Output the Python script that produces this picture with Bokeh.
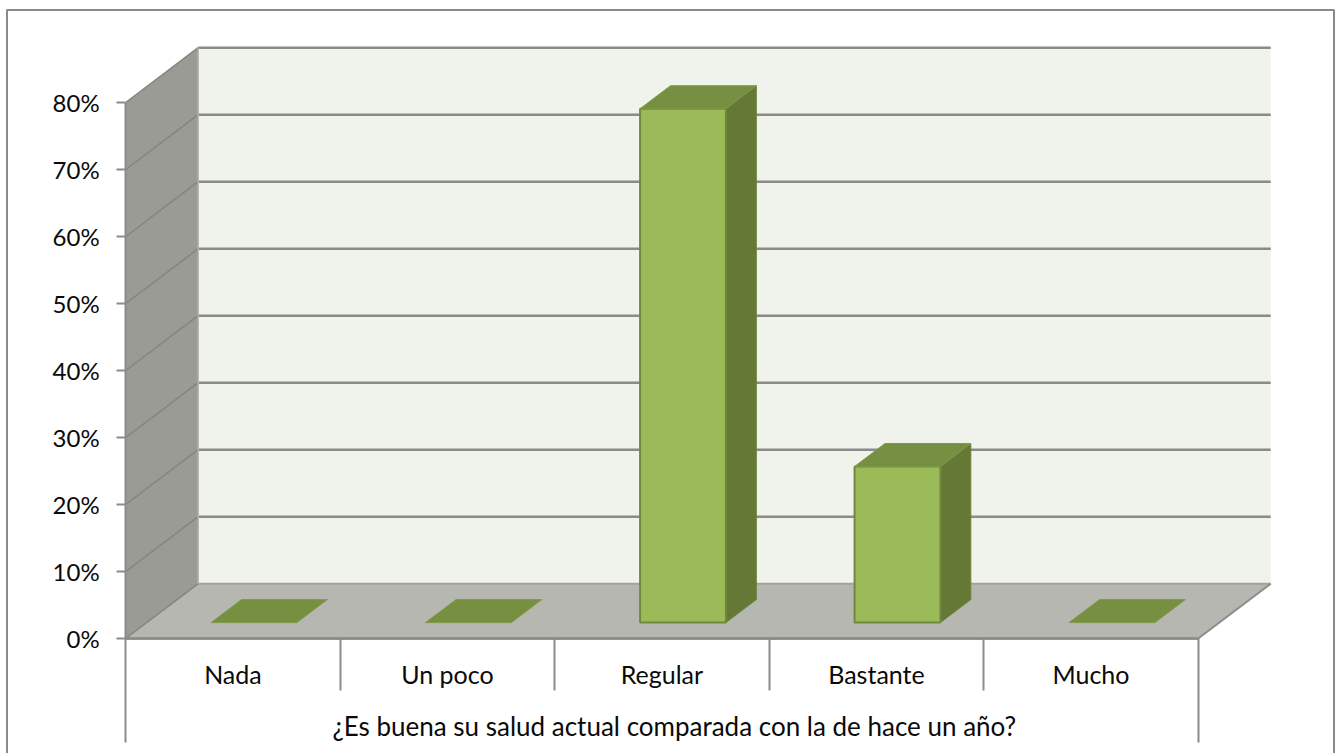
from bokeh.embed import file_html
from bokeh.models import BoxAnnotation, FixedTicker, LinearAxis, Range1d
from bokeh.plotting import figure
from bokeh.resources import INLINE

categories = ["Nada", "Un poco", "Regular", "Bastante", "Mucho"]
percentages = [0.0, 0.0, 76.7, 23.3, 0.0]
y_ticks = [0, 10, 20, 30, 40, 50, 60, 70, 80]
y_tick_labels = ["0%", "10%", "20%", "30%", "40%", "50%", "60%", "70%", "80%"]
group_title = "¿Es buena su salud actual comparada con la de hace un año?"

FONT = "Lato"
WIDTH, HEIGHT = 1339, 753

# Pixel scale of the oblique projection
PX_PER_CAT = 214.5
PX_PER_PCT = 6.7
ORIGIN_X, ORIGIN_Y = 125.2, 638.0

# Depth of the floor and of the columns, in data units
DEPTH_X = 72.5 / PX_PER_CAT
DEPTH_Y = 54.8 / PX_PER_PCT
BAR_WIDTH = 0.40
BAR_DEPTH = 0.42
BAR_SHIFT = 0.29

TOP_Y = max(y_ticks)
N = len(categories)

p = figure(
    width=WIDTH, height=HEIGHT, output_backend="svg", toolbar_location=None,
    x_range=Range1d(-ORIGIN_X / PX_PER_CAT, (WIDTH - ORIGIN_X) / PX_PER_CAT),
    y_range=Range1d(-(HEIGHT - ORIGIN_Y) / PX_PER_PCT, ORIGIN_Y / PX_PER_PCT),
    x_axis_type=None, y_axis_type=None,
    min_border=0, min_border_left=0, min_border_right=0, min_border_top=0, min_border_bottom=0,
    outline_line_color=None, background_fill_color="white",
)
p.xgrid.visible = False
p.ygrid.visible = False

# Chart border: open along the bottom of the page
p.add_layout(BoxAnnotation(
    left=6.5, right=1333.5, top=HEIGHT - 9.5, bottom=-40,
    left_units="screen", right_units="screen", top_units="screen", bottom_units="screen",
    fill_color=None, fill_alpha=0, line_color="#8a8a8a", line_alpha=1, line_width=2,
    level="underlay",
))

# Back wall, side wall and floor
p.patch([DEPTH_X, N + DEPTH_X, N + DEPTH_X, DEPTH_X],
        [DEPTH_Y, DEPTH_Y, TOP_Y + DEPTH_Y, TOP_Y + DEPTH_Y],
        fill_color="#f0f3ec", line_color=None)
p.patch([0, DEPTH_X, DEPTH_X, 0], [0, DEPTH_Y, TOP_Y + DEPTH_Y, TOP_Y],
        fill_color="#999b94", line_color=None)
p.patch([0, N, N + DEPTH_X, DEPTH_X], [0, 0, DEPTH_Y, DEPTH_Y],
        fill_color="#b5b7b0", line_color=None)

# Gridlines run up the side wall and across the back wall
for t in y_ticks:
    p.line([0, DEPTH_X], [t, t + DEPTH_Y], line_color="#84857f", line_width=1.5)
    if t == 0:
        p.line([DEPTH_X, N + DEPTH_X], [DEPTH_Y, DEPTH_Y], line_color="#a0a29b", line_width=2)
    else:
        p.line([DEPTH_X, N + DEPTH_X], [t + DEPTH_Y, t + DEPTH_Y], line_color="#8a8a8a", line_width=2.4)
p.line([DEPTH_X, DEPTH_X], [DEPTH_Y, TOP_Y + DEPTH_Y], line_color="#b3b5ae", line_width=1.5)
p.line([N, N + DEPTH_X], [0, DEPTH_Y], line_color="#8c8c8c", line_width=2)

# Columns: a flat lid is all that remains of a zero value
for i, v in enumerate(percentages):
    x0 = i + 0.5 - BAR_WIDTH / 2 + BAR_SHIFT * DEPTH_X
    x1 = x0 + BAR_WIDTH
    y0 = BAR_SHIFT * DEPTH_Y
    y1 = y0 + v
    dx = BAR_DEPTH * DEPTH_X
    dy = BAR_DEPTH * DEPTH_Y
    if v > 0:
        p.patch([x1, x1 + dx, x1 + dx, x1], [y0, y0 + dy, y1 + dy, y1],
                fill_color="#657835", line_color="#6d8339", line_width=1)
        p.patch([x0, x1, x1, x0], [y0, y0, y1, y1],
                fill_color="#9bbb59", line_color="#71893f", line_width=2)
    p.patch([x0, x1, x1 + dx, x0 + dx], [y1, y1, y1 + dy, y1 + dy],
            fill_color="#768f40", line_color="#7f9a49", line_width=1)


def grey_axis(axis, label_size="24px"):
    axis.axis_line_color = "#8c8c8c"
    axis.axis_line_width = 2
    axis.major_tick_line_color = "#8c8c8c"
    axis.major_tick_line_width = 2
    axis.major_tick_in = 0
    axis.minor_tick_line_color = None
    axis.major_label_text_font = FONT
    axis.major_label_text_color = "#0a0a0a"
    axis.major_label_text_font_size = label_size
    return axis


# Value axis along the front edge of the side wall
y_axis = grey_axis(LinearAxis(fixed_location=0, ticker=FixedTicker(ticks=y_ticks)))
y_axis.bounds = (0, TOP_Y)
y_axis.major_tick_out = 9
y_axis.major_label_standoff = 17
y_axis.major_label_overrides = dict(zip(y_ticks, y_tick_labels))
p.add_layout(y_axis, "left")

# Two-level category axis: short separators, then the tall outer ones
inner = list(range(1, N))
sep_axis = grey_axis(LinearAxis(fixed_location=0, ticker=FixedTicker(ticks=inner)))
sep_axis.bounds = (0, N)
sep_axis.major_tick_out = 52
sep_axis.major_label_text_color = None
p.add_layout(sep_axis, "below")

outer_axis = grey_axis(LinearAxis(fixed_location=0, ticker=FixedTicker(ticks=[0, N])))
outer_axis.bounds = (0, N)
outer_axis.major_tick_out = 104
outer_axis.major_label_text_color = None
p.add_layout(outer_axis, "below")

centres = [i + 0.5 for i in range(N)]
cat_axis = grey_axis(LinearAxis(fixed_location=0, ticker=FixedTicker(ticks=centres)), "25px")
cat_axis.bounds = (0, N)
cat_axis.major_tick_line_color = None
cat_axis.major_tick_out = 0
cat_axis.major_label_standoff = 20
cat_axis.major_label_overrides = dict(zip(centres, categories))
p.add_layout(cat_axis, "below")

# The group title sits a little right of the axis centre
title_pos = N / 2 + 0.058
title_axis = grey_axis(LinearAxis(fixed_location=0, ticker=FixedTicker(ticks=[title_pos])), "26px")
title_axis.bounds = (0, N)
title_axis.major_tick_line_color = None
title_axis.major_tick_out = 0
title_axis.major_label_standoff = 71
title_axis.major_label_overrides = {title_pos: group_title}
p.add_layout(title_axis, "below")

open("out.html", "w").write(file_html(p, INLINE))
